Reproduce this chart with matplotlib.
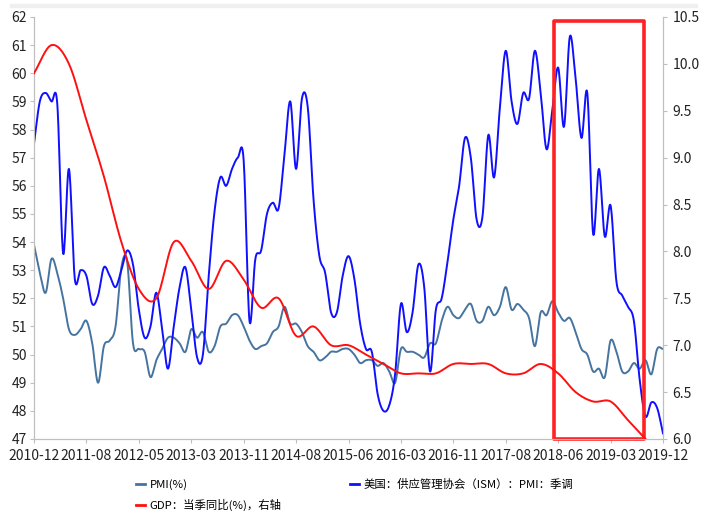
import numpy as np
import matplotlib
matplotlib.use("Agg")
import matplotlib.pyplot as plt
from matplotlib.lines import Line2D
from matplotlib.patches import Rectangle

# =========================
# DATA
# =========================

tick_labels = ["2010-12", "2011-08", "2012-05", "2013-03", "2013-11", "2014-08",
               "2015-06", "2016-03", "2016-11", "2017-08", "2018-06", "2019-03",
               "2019-12"]

# monthly, 2010-12 .. 2019-12
china_pmi = [
    53.9,
    52.9, 52.2, 53.4, 52.9, 52.0, 50.9, 50.7, 50.9, 51.2, 50.4, 49.0, 50.3,
    50.5, 51.0, 53.1, 53.3, 50.4, 50.2, 50.1, 49.2, 49.8, 50.2, 50.6, 50.6,
    50.4, 50.1, 50.9, 50.6, 50.8, 50.1, 50.3, 51.0, 51.1, 51.4, 51.4, 51.0,
    50.5, 50.2, 50.3, 50.4, 50.8, 51.0, 51.7, 51.1, 51.1, 50.8, 50.3, 50.1,
    49.8, 49.9, 50.1, 50.1, 50.2, 50.2, 50.0, 49.7, 49.8, 49.8, 49.6, 49.7,
    49.4, 49.0, 50.2, 50.1, 50.1, 50.0, 49.9, 50.4, 50.4, 51.2, 51.7, 51.4,
    51.3, 51.6, 51.8, 51.2, 51.2, 51.7, 51.4, 51.7, 52.4, 51.6, 51.8, 51.6,
    51.3, 50.3, 51.5, 51.4, 51.9, 51.5, 51.2, 51.3, 50.8, 50.2, 50.0, 49.4,
    49.5, 49.2, 50.5, 50.1, 49.4, 49.4, 49.7, 49.5, 49.8, 49.3, 50.2, 50.2,
]

us_ism = [
    57.5,
    59.0, 59.3, 59.0, 58.9, 53.6, 56.6, 52.7, 53.0, 52.8, 51.8, 52.1, 53.1,
    52.8, 52.4, 53.0, 53.7, 53.2, 51.6, 50.6, 51.0, 52.2, 50.9, 49.5, 51.0,
    52.4, 53.1, 51.6, 49.9, 50.0, 52.8, 55.1, 56.3, 56.0, 56.6, 57.0, 56.9,
    51.2, 53.4, 53.7, 55.0, 55.4, 55.2, 57.1, 59.0, 56.6, 59.1, 58.8, 55.5,
    53.5, 52.9, 51.5, 51.5, 52.8, 53.5, 52.7, 51.1, 50.2, 50.1, 48.6, 48.0,
    48.2, 49.3, 51.8, 50.8, 51.5, 53.2, 52.4, 49.4, 51.6, 52.0, 53.3, 54.8,
    56.0, 57.7, 57.0, 54.8, 54.9, 57.8, 56.3, 58.8, 60.8, 59.0, 58.2, 59.3,
    59.1, 60.8, 59.3, 57.3, 58.7, 60.2, 58.1, 61.3, 59.8, 57.7, 59.3, 54.3,
    56.6, 54.2, 55.3, 52.6, 52.1, 51.7, 51.2, 49.1, 47.8, 48.3, 48.1, 47.2,
]

# quarterly, 2010Q4 .. 2019Q3 (right axis)
china_gdp = [
    9.9,
    10.2, 10.0, 9.4, 8.8,
    8.1, 7.6, 7.5, 8.1,
    7.9, 7.6, 7.9, 7.7,
    7.4, 7.5, 7.1, 7.2,
    7.0, 7.0, 6.9, 6.8,
    6.7, 6.7, 6.7, 6.8,
    6.8, 6.8, 6.7, 6.7,
    6.8, 6.7, 6.5, 6.4,
    6.4, 6.2, 6.0,
]

label_pmi = "PMI(%)"
label_ism = "美国：供应管理协会（ISM）：PMI：季调"
label_gdp = "GDP：当季同比(%)，右轴"


# =========================
# HELPERS
# =========================

def smooth(x, y, steps=16):
    # Excel style smoothed line (uniform Catmull-Rom)
    x = np.asarray(x, float)
    y = np.asarray(y, float)
    px = np.concatenate([[2 * x[0] - x[1]], x, [2 * x[-1] - x[-2]]])
    py = np.concatenate([[2 * y[0] - y[1]], y, [2 * y[-1] - y[-2]]])
    t = np.linspace(0, 1, steps, endpoint=False)[:, None]
    out_x, out_y = [], []
    for i in range(len(x) - 1):
        for p, out in ((px, out_x), (py, out_y)):
            p0, p1, p2, p3 = p[i:i + 4]
            seg = 0.5 * ((2 * p1) + (-p0 + p2) * t
                         + (2 * p0 - 5 * p1 + 4 * p2 - p3) * t ** 2
                         + (-p0 + 3 * p1 - 3 * p2 + p3) * t ** 3)
            out.extend(seg.ravel())
    out_x.append(x[-1])
    out_y.append(y[-1])
    return np.array(out_x), np.array(out_y)


# =========================
# PLOT
# =========================

plt.rcParams["font.family"] = ["Liberation Sans Narrow", "Noto Sans CJK SC", "DejaVu Sans"]

COL_PMI = "#4674A0"
COL_ISM = "#1010FF"
COL_GDP = "#FF1010"
SPINE = "#BFBFBF"

fig = plt.figure(figsize=(7.1, 5.14), dpi=100)
ax = fig.add_axes([34 / 710, 1 - 439 / 514, 629 / 710, 422 / 514])
ax2 = ax.twinx()

months = np.arange(len(china_pmi))
quarters = np.arange(len(china_gdp)) * 3

sx, sy = smooth(months, china_pmi)
ax.plot(sx, sy, color=COL_PMI, lw=1.4, zorder=2)
sx, sy = smooth(months, us_ism)
ax.plot(sx, sy, color=COL_ISM, lw=1.4, zorder=3)
sx, sy = smooth(quarters, china_gdp)
ax2.plot(sx, sy, color=COL_GDP, lw=1.4, zorder=3)

ax.set_xlim(0, 108)
ax.set_ylim(47, 62)
ax2.set_ylim(6.0, 10.5)
ax.set_xticks(np.arange(0, 109, 9))
ax.set_xticklabels(tick_labels)
ax.set_yticks(np.arange(47, 63, 1))
ax2.set_yticks(np.arange(6.0, 10.51, 0.5))
ax2.set_yticklabels([f"{v:.1f}" for v in np.arange(6.0, 10.51, 0.5)])

for a in (ax, ax2):
    a.spines["top"].set_visible(False)
    for side in ("left", "right", "bottom"):
        a.spines[side].set_color(SPINE)
        a.spines[side].set_linewidth(0.8)
    a.tick_params(colors=SPINE, labelcolor="#222222", labelsize=10,
                  length=3, width=0.8)
ax.tick_params(axis="x", pad=4)
ax.tick_params(axis="y", pad=2)
ax2.tick_params(axis="y", pad=4)

# highlight box around 2018-06 .. 2019-09
box = Rectangle((89.25, 47.0), 104.7 - 89.25, 61.86 - 47.0, fill=False,
                edgecolor="#FF2222", lw=2.6, joinstyle="round", clip_on=False,
                zorder=5)
ax.add_patch(box)

# thin grey band at the top of the picture
fig.patches.append(Rectangle((10 / 710, 1 - 7 / 514), 687 / 710, 3 / 514,
                             transform=fig.transFigure, color="#EFEFEF",
                             zorder=0))

handles = [Line2D([], [], color=COL_PMI, lw=2),
           Line2D([], [], color=COL_GDP, lw=2),
           Line2D([], [], color=COL_ISM, lw=2)]
fig.legend(handles, [label_pmi, label_gdp, label_ism],
           loc="upper left", bbox_to_anchor=(136 / 710, 1 - 479 / 514),
           ncol=2, frameon=False, handlelength=0.8,
           handletextpad=0.4, columnspacing=6.0, labelspacing=0.75,
           borderpad=0, borderaxespad=0,
           prop={"family": ["Noto Sans CJK SC", "DejaVu Sans"], "size": 8.2})

fig.savefig("out.png", dpi=100)
plt.close(fig)
